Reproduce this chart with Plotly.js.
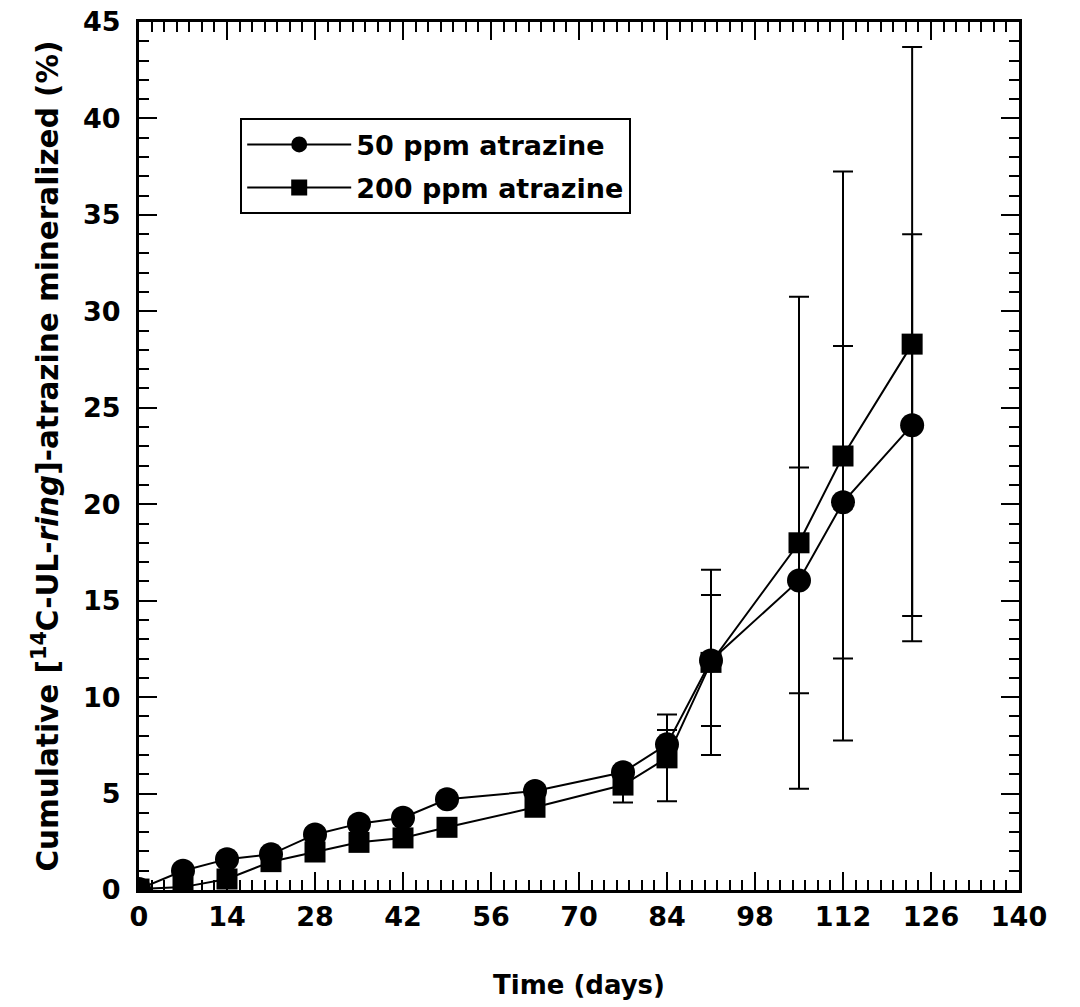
<!DOCTYPE html>
<html>
<head>
<meta charset="utf-8">
<script src="https://cdn.plot.ly/plotly-3.0.1.min.js"></script>
<style>html,body{margin:0;padding:0;background:#fff;}#chart{width:1080px;height:1007px;}</style>
</head>
<body>
<div id="chart"></div>
<script>
// Time (days)
var days = [0, 7, 14, 21, 28, 35, 42, 49, 63, 77, 84, 91, 105, 112, 123];
// 50 ppm atrazine: cumulative % mineralized and error
var ppm50 = [0.05, 1.0, 1.6, 1.85, 2.88, 3.44, 3.75, 4.7, 5.13, 6.1, 7.55, 11.9, 16.05, 20.1, 24.1];
var ppm50Err = [0.1, 0.2, 0.3, 0.3, 0.3, 0.3, 0.3, 0.3, 0.3, 0.3, 0.75, 3.4, 5.85, 8.1, 9.9];
// 200 ppm atrazine
var ppm200 = [0.05, 0.15, 0.57, 1.47, 1.97, 2.47, 2.7, 3.25, 4.29, 5.44, 6.85, 11.8, 18.0, 22.5, 28.3];
var ppm200Err = [0.1, 0.1, 0.2, 0.3, 0.3, 0.3, 0.3, 0.3, 0.3, 0.9, 2.25, 4.8, 12.75, 14.75, 15.4];
var seriesNames = ['50 ppm atrazine', '200 ppm atrazine'];
var xTicks = [0, 14, 28, 42, 56, 70, 84, 98, 112, 126, 140];
var yTicks = [0, 5, 10, 15, 20, 25, 30, 35, 40, 45];

var FONT = 'DejaVu Sans';

var traces = [
  {
    x: days, y: ppm50, name: seriesNames[0], type: 'scatter', mode: 'lines+markers',
    legendgroup: 'a',
    line: {color: '#000', width: 2},
    marker: {symbol: 'circle', size: 24, color: '#000'},
    error_y: {type: 'data', array: ppm50Err, visible: true, color: '#000', thickness: 2, width: 10}
  },
  {
    x: days, y: ppm200, name: seriesNames[1], type: 'scatter', mode: 'lines+markers',
    legendgroup: 'b',
    line: {color: '#000', width: 2},
    marker: {symbol: 'square', size: 21, color: '#000'},
    error_y: {type: 'data', array: ppm200Err, visible: true, color: '#000', thickness: 2, width: 10}
  }
];

var tickFont = {family: FONT, size: 27, color: '#000', weight: 'bold'};

var layout = {
  width: 1080, height: 1007,
  margin: {l: 139, r: 61, t: 22, b: 117},
  paper_bgcolor: '#fff', plot_bgcolor: '#fff',
  showlegend: true,
  legend: {
    x: 0.115, y: 0.889, xanchor: 'left', yanchor: 'top',
    bgcolor: '#fff', bordercolor: '#000', borderwidth: 2,
    font: {family: FONT, size: 27, color: '#000', weight: 'bold'},
    itemwidth: 104, tracegroupgap: 5
  },
  xaxis: {
    range: [0, 140], tickvals: xTicks, ticktext: xTicks.map(String),
    ticks: 'inside', ticklen: 18, tickwidth: 2, tickcolor: '#000',
    minor: {dtick: 2, ticks: 'inside', ticklen: 10, tickwidth: 2, tickcolor: '#000', showgrid: false},
    showline: true, linecolor: '#000', linewidth: 3, mirror: 'allticks',
    showgrid: false, zeroline: false,
    tickfont: tickFont, ticklabelstandoff: 1,
    title: {text: 'Time (days)', font: {family: FONT, size: 26, color: '#000', weight: 'bold'}, standoff: 45}
  },
  yaxis: {
    range: [0, 45], tickvals: yTicks, ticktext: yTicks.map(String),
    ticks: 'inside', ticklen: 18, tickwidth: 2, tickcolor: '#000',
    minor: {dtick: 1, ticks: 'inside', ticklen: 10, tickwidth: 2, tickcolor: '#000', showgrid: false},
    showline: true, linecolor: '#000', linewidth: 3, mirror: 'allticks',
    showgrid: false, zeroline: false,
    tickfont: tickFont, ticklabelstandoff: 10,
    title: {text: 'Cumulative [<sup>14</sup>C-UL-<i>ring</i>]-atrazine mineralized (%)', font: {family: FONT, size: 29.5, color: '#000', weight: 'bold'}, standoff: 16}
  },
  yaxis2: {
    range: [0, 45], tickvals: yTicks, ticktext: yTicks.map(String),
    overlaying: 'y', side: 'right', anchor: 'x',
    ticks: 'inside', ticklen: 18, tickwidth: 2, tickcolor: '#000',
    showline: false, showgrid: false, zeroline: false,
    tickfont: tickFont, ticklabelstandoff: 8
  }
};

Plotly.newPlot('chart', traces, layout, {displayModeBar: false, staticPlot: true});
</script>
</body>
</html>
